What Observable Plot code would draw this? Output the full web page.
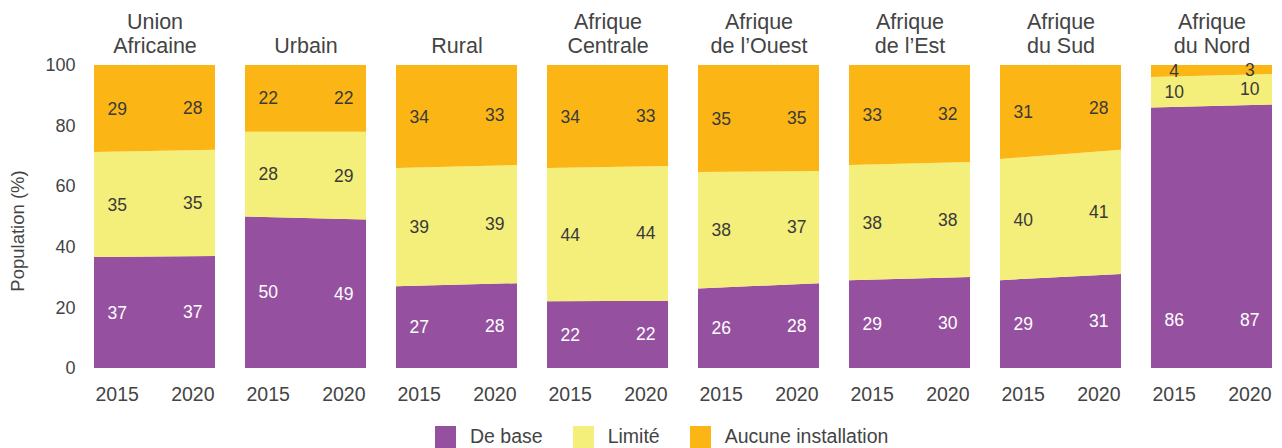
<!DOCTYPE html>
<html><head><meta charset="utf-8">
<script src="https://cdn.jsdelivr.net/npm/d3@7"></script>
<script src="https://cdn.jsdelivr.net/npm/@observablehq/plot@0.6"></script>
<style>
body{margin:0;background:#fff;font-family:"Liberation Sans",Arial,sans-serif;}
#legend{display:flex;justify-content:flex-start;align-items:center;padding-left:435px;margin-top:13px;font-size:19.5px;color:#444;}
.item{display:flex;align-items:center;margin-right:30px;}
.sw{width:21px;height:22px;margin-right:14px;}
</style>
</head><body>
<div id="chart"></div>
<script>
const regions = ["Union\nAfricaine","Urbain","Rural","Afrique\nCentrale","Afrique\nde l’Ouest","Afrique\nde l’Est","Afrique\ndu Sud","Afrique\ndu Nord"];
const years = [2015, 2020];
const categories = ["De base","Limité","Aucune installation"];
const colors = ["#95519f","#f4ee7a","#fbb616"];
const deBase = [[37,37],[50,49],[27,28],[22,22],[26,28],[29,30],[29,31],[86,87]];
const limite = [[35,35],[28,29],[39,39],[44,44],[38,37],[38,38],[40,41],[10,10]];
const aucune = [[29,28],[22,22],[34,33],[34,33],[35,35],[33,32],[31,28],[4,3]];
const yTicks = [0,20,40,60,80,100];
const yLabel = "Population (%)";
const xDomain = [2013.5, 2021.5];

const series = [deBase, limite, aucune];
const rows = [];
const areaRows = [];
regions.forEach((region, i) => {
  categories.forEach((category, c) => {
    years.forEach((year, j) => {
      const value = series[c][i][j];
      rows.push({region, category, year, value});
      areaRows.push({region, category, x: xDomain[j], value});
    });
  });
});

function labelMark(keep, fill) {
  const st = Plot.stackY({x: "year", y: "value", z: "category", order: categories, offset: "normalize"});
  // label at band midpoint; very tall bands get their label low in the band
  const yPos = {transform: () => {
    const Y1 = st.y1.transform(), Y2 = st.y2.transform();
    return Array.from(Y1, (a, i) => (Y2[i] - a) > 0.6 ? a + 0.16 : (a + Y2[i]) / 2);
  }};
  return Plot.text(rows, {
    ...st,
    y: yPos,
    fx: "region",
    text: d => String(d.value),
    fill,
    fontSize: 17.5,
    transform: (data, facets) => {
      const r = st.transform(data, facets);
      return {data: r.data, facets: r.facets.map(f => f.filter(i => keep(r.data[i])))};
    }
  });
}

const chart = Plot.plot({
  width: 1282, height: 412,
  marginLeft: 93, marginRight: 9, marginTop: 65, marginBottom: 44,
  style: {fontFamily: "'Liberation Sans', Arial, sans-serif", color: "#444", background: "#fff"},
  fx: {domain: regions, paddingInner: 0.2, paddingOuter: 0, label: null},
  x: {domain: xDomain, label: null},
  y: {domain: [0, 100], percent: true, label: null},
  color: {domain: categories, range: colors},
  marks: [
    Plot.areaY(areaRows, {x: "x", y: "value", z: "category", fill: "category", fx: "region", order: categories, offset: "normalize"}),
    labelMark(d => d.category === "De base", "white"),
    labelMark(d => d.category !== "De base", "#3a3a3a"),
    Plot.axisFx({anchor: "top", tickSize: 0, tickPadding: 13, fontSize: 21.5, lineHeight: 1.1, label: null, fill: "#444"}),
    Plot.axisX({ticks: years, tickFormat: d => String(d), tickSize: 0, tickPadding: 19, fontSize: 19.5, label: null, fill: "#444"}),
    Plot.axisY({ticks: yTicks, tickSize: 0, tickPadding: 19, fontSize: 18, fill: "#444", label: null}),
    Plot.text([yLabel], {fx: () => regions[0], text: d => d, frameAnchor: "left", rotate: -90, dx: -76, dy: 14, fontSize: 18.5, fill: "#444", textAnchor: "middle"})
  ]
});
document.getElementById("chart").appendChild(chart);

const legend = document.createElement("div");
legend.id = "legend";
categories.forEach((c, i) => {
  const it = document.createElement("div"); it.className = "item";
  const sw = document.createElement("div"); sw.className = "sw"; sw.style.background = colors[i];
  const t = document.createElement("span"); t.textContent = c;
  it.appendChild(sw); it.appendChild(t); legend.appendChild(it);
});
document.body.appendChild(legend);
</script>
</body></html>
